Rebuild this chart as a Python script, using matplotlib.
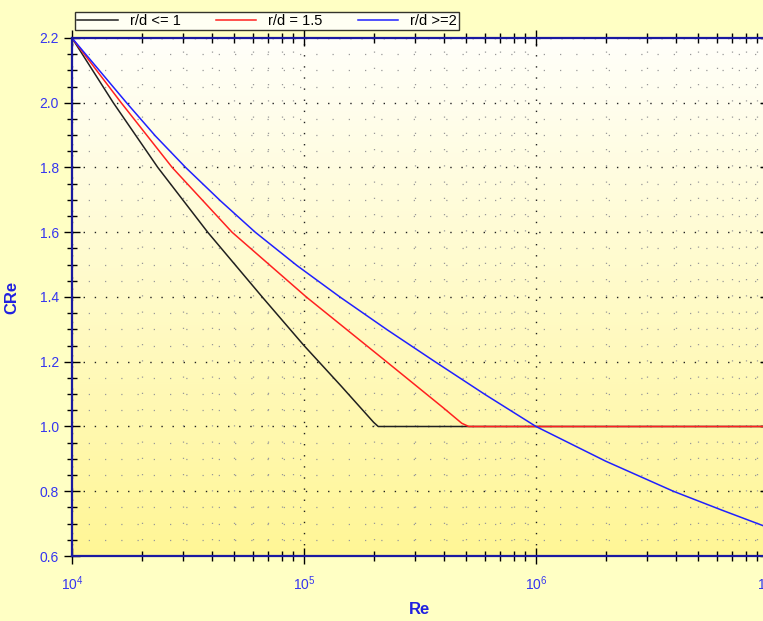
import numpy as np
import matplotlib
matplotlib.use("Agg")
import matplotlib.pyplot as plt
from matplotlib.ticker import LogLocator, MultipleLocator

# ---- data ----
re_black = [1e4, 10**4.178, 10**4.37, 10**4.585, 10**4.82, 10**5.0, 10**5.16, 10**5.30, 10**5.32, 10**5.34, 1e7]
cre_black = [2.2, 2.0, 1.8, 1.6, 1.4, 1.25, 1.125, 1.013, 1.0, 1.0, 1.0]

re_red = [1e4, 10**4.212, 10**4.432, 10**4.69, 10**5.01, 10**5.356, 10**5.60, 10**5.68, 10**5.71, 1e7]
cre_red = [2.2, 2.0, 1.8, 1.6, 1.4, 1.2, 1.058, 1.01, 1.0, 1.0]

re_blue = [1e4, 10**4.12, 10**4.235, 10**4.36, 10**4.49, 10**4.64, 10**4.79, 10**4.97, 10**5.155,
           10**5.36, 10**5.565, 10**5.78, 10**6.0, 10**6.3, 10**6.592, 10**6.8, 1e7]
cre_blue = [2.2, 2.098, 2.0, 1.897, 1.8, 1.697, 1.6, 1.497, 1.4,
            1.298, 1.2, 1.099, 1.0, 0.893, 0.8, 0.742, 0.688]

labels = ["r/d <= 1", "r/d = 1.5", "r/d >=2"]
colors = ["#202020", "#ff2020", "#2020ff"]
ylabel = "CRe"
xlabel = "Re"

plt.rcParams['font.family'] = ['Liberation Sans', 'DejaVu Sans']
plt.rcParams['mathtext.default'] = 'regular'

W, H = 763, 621
fig = plt.figure(figsize=(W / 100, H / 100), dpi=100)
fig.patch.set_facecolor('#ffffc4')

ax = fig.add_axes([72 / W, 1 - 556 / H, 696 / W, 518 / H])
ax.set_xscale('log')

# gradient background
grad = np.linspace(0, 1, 256).reshape(-1, 1)
top = np.array([255, 255, 250]) / 255
bot = np.array([255, 246, 150]) / 255
img = top[None, None, :] * (1 - grad[:, :, None]) + bot[None, None, :] * grad[:, :, None]
ax.imshow(img, extent=[1e4, 1e7, 0.6, 2.2], origin='upper', aspect='auto', zorder=0)
ax.set_xlim(1e4, 1e7)
ax.set_ylim(0.6, 2.2)

ax.plot(re_black, cre_black, color=colors[0], lw=1.1, label=labels[0], zorder=3)
ax.plot(re_red, cre_red, color=colors[1], lw=1.1, label=labels[1], zorder=3)
ax.plot(re_blue, cre_blue, color=colors[2], lw=1.1, label=labels[2], zorder=3)

ax.yaxis.set_major_locator(MultipleLocator(0.2))
ax.yaxis.set_minor_locator(MultipleLocator(0.05))
ax.xaxis.set_major_locator(LogLocator(base=10, numticks=10))
ax.xaxis.set_minor_locator(LogLocator(base=10, subs=np.arange(2, 10), numticks=20))
ax.yaxis.set_major_formatter(matplotlib.ticker.FormatStrFormatter('%.1f'))

ax.grid(which='major', color='#222222', linestyle=(0, (1, 7)), linewidth=1.0, zorder=1)
ax.grid(which='minor', color='#999999', linestyle=(0, (1, 12)), linewidth=0.9, zorder=1)

for s in ax.spines.values():
    s.set_color('#1a1aa0')
    s.set_linewidth(1.6)
    s.set_zorder(4)

tc = '#3535f0'
ax.tick_params(which='major', direction='inout', length=11, width=1.0, color='black',
               labelcolor=tc, labelsize=10, top=True, right=True)
ax.tick_params(which='minor', direction='inout', length=7, width=1.0, color='black',
               top=True, right=True)
ax.tick_params(axis='x', which='major', pad=8)
ax.tick_params(axis='y', which='major', pad=4)

ax.set_xlabel(xlabel, color='#2020e0', fontsize=12, fontweight='bold', labelpad=6)
ax.set_ylabel(ylabel, color='#2020e0', fontsize=12, fontweight='bold', labelpad=14)

leg = fig.legend(loc='lower left', ncol=3, mode='expand',
                 bbox_to_anchor=(75 / W, 1 - 30 / H, 384 / W, 20 / H),
                 fontsize=10.5, frameon=True, fancybox=False, handlelength=2.8,
                 borderaxespad=0, borderpad=0.15, columnspacing=1.6, handletextpad=0.8)
leg.get_frame().set_edgecolor('black')
leg.get_frame().set_linewidth(1.0)
leg.get_frame().set_facecolor('white')

fig.savefig('out.png', dpi=100, facecolor=fig.get_facecolor())
